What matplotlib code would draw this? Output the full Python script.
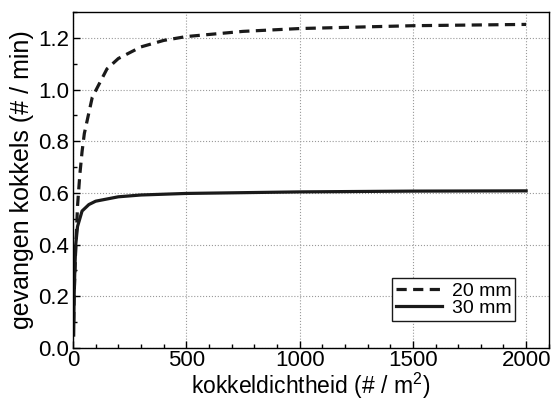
import matplotlib
matplotlib.use("Agg")
import matplotlib.pyplot as plt
from matplotlib.ticker import MultipleLocator

plt.rcParams['font.family'] = ['Liberation Sans', 'DejaVu Sans']
plt.rcParams['mathtext.default'] = 'regular'

# --- data ---
dens_20 = [3, 5, 10, 20, 30, 40, 50, 85, 150, 200, 300, 400, 500, 750, 1000, 1500, 2000]
catch_20 = [0.10, 0.20, 0.34, 0.55, 0.67, 0.76, 0.83, 0.97, 1.08, 1.12, 1.165, 1.19, 1.205,
            1.225, 1.236, 1.247, 1.252]

dens_30 = [3, 5, 8, 12, 20, 40, 70, 100, 200, 300, 500, 1000, 1500, 2000]
catch_30 = [0.05, 0.20, 0.30, 0.40, 0.47, 0.53, 0.555, 0.568, 0.585, 0.592, 0.598, 0.604,
            0.607, 0.608]

labels = ['20 mm', '30 mm']

fig = plt.figure(figsize=(5.51, 4.0), dpi=100)
ax = fig.add_axes([0.1325, 0.13, 0.8635, 0.84])

ax.plot(dens_20, catch_20, color='#1a1a1a', lw=2.3, linestyle=(0, (3.2, 2.0)), label=labels[0])
ax.plot(dens_30, catch_30, color='#1a1a1a', lw=2.3, label=labels[1])

ax.set_xlim(0, 2100)
ax.set_ylim(0, 1.3)
ax.xaxis.set_major_locator(MultipleLocator(500))
ax.xaxis.set_minor_locator(MultipleLocator(100))
ax.yaxis.set_major_locator(MultipleLocator(0.2))
ax.yaxis.set_minor_locator(MultipleLocator(0.1))
ax.yaxis.set_major_formatter(plt.FuncFormatter(lambda v, p: f'{v:.1f}'))

ax.tick_params(which='both', direction='in', labelsize=16, width=1, pad=3)
ax.tick_params(which='major', length=5)
ax.tick_params(which='minor', length=3)
ax.tick_params(axis='x', which='both', pad=1.5)
ax.grid(True, which='major', color='#999999', linestyle=':', linewidth=0.8)
ax.set_axisbelow(True)
for s in ax.spines.values():
    s.set_linewidth(1.0)

ax.set_xlabel('kokkeldichtheid (# / m$^2$)', fontsize=16.5, labelpad=0)
ax.set_ylabel('gevangen kokkels (# / min)', fontsize=18, labelpad=3)

leg = ax.legend(loc='lower right', bbox_to_anchor=(0.93, 0.08), borderaxespad=0,
                fontsize=14, fancybox=False, framealpha=1, edgecolor='#1a1a1a',
                handlelength=2.4, handletextpad=0.5, borderpad=0.2, labelspacing=0.0)
leg.get_frame().set_linewidth(1.0)

fig.savefig('out.png', dpi=100)
